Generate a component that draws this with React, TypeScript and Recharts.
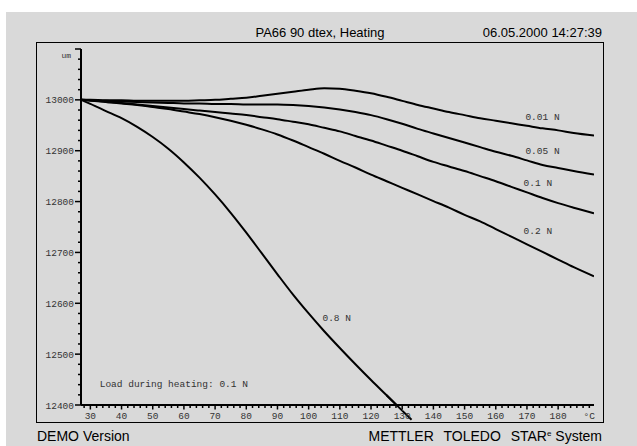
import { LineChart, Line, XAxis, YAxis, ReferenceDot, ReferenceLine } from "recharts";

// temperature grid, °C
const temps = [
  27, 30, 35, 40, 45, 50, 55, 60, 65, 70, 75, 80, 85, 90, 95, 100, 105, 110, 115, 120,
  125, 130, 135, 140, 145, 150, 155, 160, 165, 170, 175, 180, 185, 191.5,
];

// length in um for each load
const load001 = [
  13000, 13000, 12999, 12999, 12998, 12998, 12998, 12998, 12999, 13000, 13002, 13004, 13008, 13012,
  13016, 13020, 13023, 13022, 13018, 13013, 13006, 12998, 12990, 12983, 12976, 12970, 12964, 12959,
  12954, 12949, 12944, 12940, 12935, 12930,
];
const load005 = [
  13000, 12999, 12998, 12997, 12996, 12995, 12994, 12993, 12993, 12992, 12992, 12991, 12991, 12991,
  12990, 12988, 12985, 12981, 12976, 12970, 12962, 12953, 12943, 12934, 12925, 12916, 12907, 12898,
  12890, 12881, 12872, 12866, 12860, 12853,
];
const load01 = [
  13000, 12998, 12996, 12994, 12991, 12988, 12985, 12982, 12979, 12976, 12973, 12970, 12966, 12962,
  12957, 12952, 12945, 12938, 12929, 12920, 12910, 12900, 12889, 12878, 12869, 12860, 12850, 12840,
  12829, 12818, 12807, 12797, 12788, 12777,
];
const load02 = [
  13000, 12999, 12996, 12993, 12990, 12986, 12982, 12977, 12972, 12966, 12959, 12951, 12942, 12932,
  12920, 12907, 12894, 12880, 12867, 12853, 12840, 12827, 12814, 12801, 12788, 12774, 12761, 12746,
  12731, 12716, 12701, 12686, 12671, 12653,
];
const load08 = [
  13000, 12992, 12978, 12964, 12947, 12927, 12904, 12877, 12847, 12814, 12778, 12739, 12698, 12657,
  12617, 12580, 12545, 12512, 12480, 12449, 12419, 12389, null, null, null, null, null, null,
  null, null, null, null, null, null,
];
// 0.8 N runs on below the axis line
const tailTemps = [125, 130, 133];
const tailValues = [12419, 12389, 12371];

const xLabels = [30, 40, 50, 60, 70, 80, 90, 100, 110, 120, 130, 140, 150, 160, 170, 180];
const yLabels = [12400, 12500, 12600, 12700, 12800, 12900, 13000];

const xTicks: number[] = [];
for (let t = 28; t <= 190; t += 2) xTicks.push(t);
const yTicks: number[] = [];
for (let v = 12400; v <= 13100; v += 20) yTicks.push(v);

const data = temps.map((t, i) => ({
  t,
  a: load001[i],
  b: load005[i],
  c: load01[i],
  d: load02[i],
  e: load08[i],
}));

const mono = "'Liberation Mono', monospace";
const sans = "'Liberation Sans', Arial, sans-serif";

const YTick = (props: any) => {
  const { x, y, payload } = props;
  const v = payload.value;
  const major = yLabels.includes(v);
  const top = v === 13100;
  return (
    <g>
      <line x1={x - (major || top ? 6 : 3)} x2={x} y1={y} y2={y} stroke="#000" strokeWidth={1.5} />
      {major && (
        <text x={x - 7} y={y} dy={3.5} textAnchor="end" fontSize={9.5} fontFamily={mono} fill="#333">
          {v}
        </text>
      )}
      {top && (
        <text x={x - 10} y={y} dy={9} textAnchor="end" fontSize={8} fontFamily={mono} fill="#333">
          um
        </text>
      )}
    </g>
  );
};

const XTick = (props: any) => {
  const { x, y, payload } = props;
  const v = payload.value;
  const major = xLabels.includes(v);
  const unit = v === 190;
  return (
    <g>
      <line x1={x} x2={x} y1={y} y2={y + (major ? 4.5 : 3)} stroke="#000" strokeWidth={1.5} />
      {(major || unit) && (
        <text x={x} y={y + 14} textAnchor="middle" fontSize={9.5} fontFamily={mono} fill="#333">
          {unit ? "°C" : v}
        </text>
      )}
    </g>
  );
};

const curveLabel = (value: string, position: any = "center") => ({
  value,
  position,
  offset: 0,
  fontSize: 9.5,
  fontFamily: mono,
  fill: "#333",
});

export default function App() {
  return (
    <div style={{ position: "absolute", left: 0, top: 0, width: 637, height: 446, background: "#fff" }}>
      <div style={{ position: "absolute", left: 6, top: 12, right: 0, bottom: 0, background: "#d9d9d9" }} />
      <div
        style={{
          position: "absolute",
          left: 36,
          top: 42,
          width: 566,
          height: 379,
          border: "1.5px solid #000",
        }}
      />
      <div style={{ position: "absolute", left: 200, width: 240, top: 25, textAlign: "center", fontFamily: sans, fontSize: 13 }}>
        PA66 90 dtex, Heating
      </div>
      <div style={{ position: "absolute", right: 35, top: 25, fontFamily: sans, fontSize: 13 }}>
        06.05.2000 14:27:39
      </div>
      <div style={{ position: "absolute", left: 37, top: 428, fontFamily: sans, fontSize: 14 }}>DEMO Version</div>
      <div style={{ position: "absolute", right: 35, top: 428, fontFamily: sans, fontSize: 14, whiteSpace: "nowrap" }}>
        <span style={{ wordSpacing: 6 }}>METTLER TOLEDO STAR</span>
        <span style={{ fontSize: 8, position: "relative", top: -5 }}>e</span>
        <span> System</span>
      </div>
      <LineChart
        width={637}
        height={446}
        data={data}
        margin={{ top: 49, right: 43, bottom: 21, left: 36 }}
        style={{ position: "absolute", left: 0, top: 0 }}
      >
        <XAxis
          dataKey="t"
          type="number"
          domain={[27, 191.5]}
          ticks={xTicks}
          interval={0}
          height={20}
          tickSize={0}
          tickMargin={0}
          tick={<XTick />}
          axisLine={{ stroke: "#000", strokeWidth: 2 }}
          tickLine={false}
          allowDataOverflow
        />
        <YAxis
          type="number"
          domain={[12400, 13100]}
          ticks={yTicks}
          interval={0}
          width={45}
          tickSize={0}
          tickMargin={0}
          tick={<YTick />}
          axisLine={{ stroke: "#000", strokeWidth: 2 }}
          tickLine={false}
          allowDataOverflow
        />
        <Line dataKey="a" type="monotone" stroke="#000" strokeWidth={2} dot={false} isAnimationActive={false} />
        <Line dataKey="b" type="monotone" stroke="#000" strokeWidth={2} dot={false} isAnimationActive={false} />
        <Line dataKey="c" type="monotone" stroke="#000" strokeWidth={2} dot={false} isAnimationActive={false} />
        <Line dataKey="d" type="monotone" stroke="#000" strokeWidth={2} dot={false} isAnimationActive={false} />
        <Line dataKey="e" type="monotone" stroke="#000" strokeWidth={2} dot={false} isAnimationActive={false} />
        {tailTemps.slice(1).map((t, i) => (
          <ReferenceLine
            key={t}
            segment={[
              { x: tailTemps[i], y: tailValues[i] },
              { x: t, y: tailValues[i + 1] },
            ]}
            stroke="#000"
            strokeWidth={2}
            ifOverflow="visible"
          />
        ))}
        <ReferenceDot x={175} y={12967} r={0} stroke="none" fill="none" label={curveLabel("0.01 N")} />
        <ReferenceDot x={175} y={12901} r={0} stroke="none" fill="none" label={curveLabel("0.05 N")} />
        <ReferenceDot x={173.5} y={12838} r={0} stroke="none" fill="none" label={curveLabel("0.1 N")} />
        <ReferenceDot x={173.5} y={12743} r={0} stroke="none" fill="none" label={curveLabel("0.2 N")} />
        <ReferenceDot x={109} y={12572} r={0} stroke="none" fill="none" label={curveLabel("0.8 N")} />
        <ReferenceDot x={33} y={12442} r={0} stroke="none" fill="none" label={curveLabel("Load during heating: 0.1 N", "right")} />
      </LineChart>
    </div>
  );
}
